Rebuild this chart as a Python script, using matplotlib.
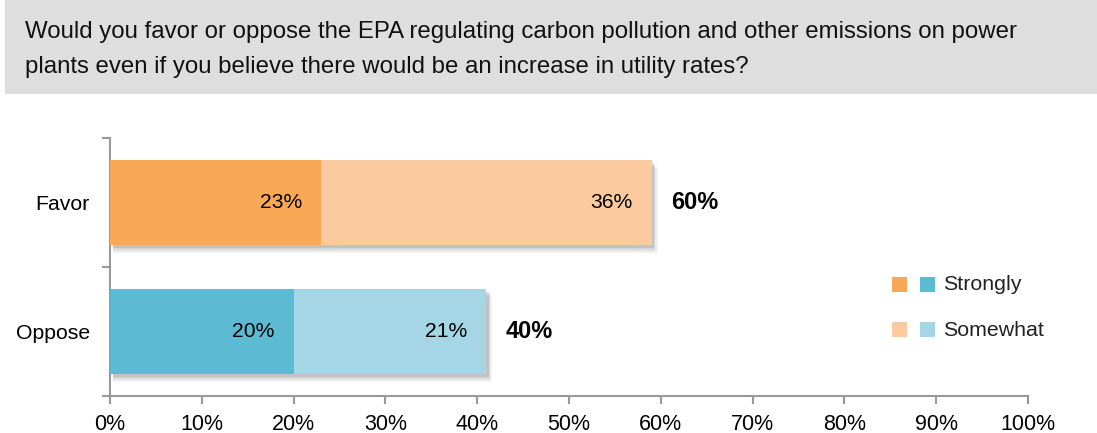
import matplotlib
matplotlib.use("Agg")
import matplotlib.pyplot as plt
from matplotlib.patches import Rectangle

categories = ["Oppose", "Favor"]
strongly = [20, 23]
somewhat = [21, 36]
totals = ["40%", "60%"]
x_ticks = [0, 10, 20, 30, 40, 50, 60, 70, 80, 90, 100]
x_tick_labels = [f"{v}%" for v in x_ticks]
legend_labels = ["Strongly", "Somewhat"]

strong_colors = ["#5DBAD3", "#F9A856"]
some_colors = ["#A5D6E5", "#FBCA9F"]

plt.rcParams['font.family'] = ['Liberation Sans', 'DejaVu Sans']

W, H = 1097, 433
fig = plt.figure(figsize=(W / 100, H / 100), dpi=100)

# title box
fig.patches.append(Rectangle((5 / W, 1 - 94 / H), (W - 5) / W, 94 / H,
                             transform=fig.transFigure, facecolor="#DEDEDE",
                             edgecolor="none", zorder=0))
fig.text(25 / W, 1 - 32 / H,
         "Would you favor or oppose the EPA regulating carbon pollution and other emissions on power",
         fontsize=17.3, va="center", ha="left", color="#111111")
fig.text(25 / W, 1 - 67 / H,
         "plants even if you believe there would be an increase in utility rates?",
         fontsize=17.3, va="center", ha="left", color="#111111")

ax = fig.add_axes([110 / W, (H - 396) / H, (1028 - 110) / W, (396 - 138) / H])
ypos = list(range(len(categories)))
bh = 0.66

# shadows
for i, y in enumerate(ypos):
    tot = strongly[i] + somewhat[i]
    for k, a in enumerate([0.10, 0.07, 0.05, 0.03]):
        off = 0.02 + k * 0.015
        ax.add_patch(Rectangle((0.3, y - bh / 2 - off), tot + k * 0.12, bh,
                               facecolor="#000000", alpha=a, edgecolor="none", zorder=1))

ax.barh(ypos, strongly, height=bh, color=strong_colors, zorder=3)
ax.barh(ypos, somewhat, left=strongly, height=bh, color=some_colors, zorder=3)

for i, y in enumerate(ypos):
    s = strongly[i]
    m = somewhat[i]
    ax.text(s - 2.1, y, f"{s}%", ha="right", va="center", fontsize=15.2, zorder=4)
    ax.text(s + m - 2.1, y, f"{m}%", ha="right", va="center", fontsize=15.2, zorder=4)
    ax.text(s + m + 2.1, y, totals[i], ha="left", va="center", fontsize=17,
            fontweight="bold", zorder=4)

ax.set_xlim(0, 100)
ax.set_ylim(-0.5, 1.5)
ax.set_xticks(x_ticks)
ax.set_xticklabels(x_tick_labels, fontsize=15.5)
ax.set_yticks([-0.5, 0.5, 1.5])
ax.set_yticklabels([])
ax.set_yticks(ypos, minor=True)
ax.set_yticklabels(categories, minor=True, fontsize=15.3)
ax.tick_params(axis="y", which="minor", length=0, pad=14.5)
ax.tick_params(axis="y", which="major", length=6, width=1.5, color="#999999")
ax.tick_params(axis="x", length=6, width=1.5, color="#999999", pad=7)
for sp in ["top", "right"]:
    ax.spines[sp].set_visible(False)
for sp in ["left", "bottom"]:
    ax.spines[sp].set_color("#999999")
    ax.spines[sp].set_linewidth(1.5)

# legend (manual)
for j, (lab, yc) in enumerate(zip(legend_labels, [284, 329])):
    cols = [strong_colors[1], strong_colors[0]] if j == 0 else [some_colors[1], some_colors[0]]
    for xc, c in zip([892, 920], cols):
        fig.patches.append(Rectangle((xc / W, 1 - (yc + 7.5) / H), 15 / W, 15 / H,
                                     transform=fig.transFigure, facecolor=c,
                                     edgecolor="none"))
    fig.text(943 / W, 1 - (yc + 1) / H, lab, fontsize=15.4, va="center", ha="left",
             color="#222222")

fig.savefig("out.png", dpi=100)
